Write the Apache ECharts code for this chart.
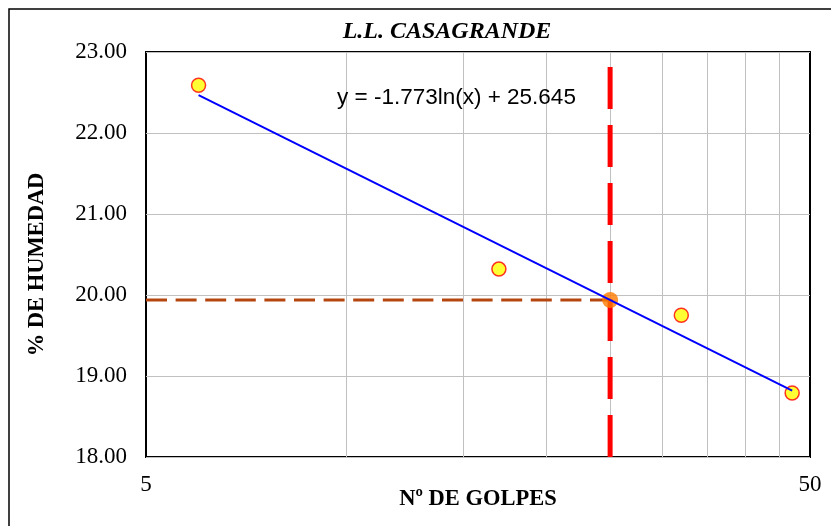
<!DOCTYPE html>
<html>
<head>
<meta charset="utf-8">
<script src="https://cdn.jsdelivr.net/npm/echarts@6/dist/echarts.min.js"></script>
<style>
  html, body { margin: 0; padding: 0; background: #ffffff; }
  #chart { width: 831px; height: 526px; }
</style>
</head>
<body>
<div id="chart"></div>
<script>
// Casagrande liquid-limit test: blow count vs. moisture content
const golpes = [6, 17, 32, 47];
const humedad = [22.59, 20.32, 19.75, 18.79];

// Logarithmic trendline  y = a·ln(x) + b
const trendA = -1.773;
const trendB = 25.645;
const trendFrom = 6;
const trendTo = 47;

// Liquid limit is read at 25 blows
const golpesLL = 25;

// Vertical reference lines of the log grid
const gridGolpes = [10, 15, 20, 25, 30, 35, 40, 45];

// Axis ranges
const xMin = 5, xMax = 50;
const yMin = 18, yMax = 23, yStep = 1;

const trendAt = x => trendA * Math.log(x) + trendB;
const humedadLL = trendAt(golpesLL);

const serif = '"Liberation Serif", "Times New Roman", serif';
const sans = '"Liberation Sans", Arial, sans-serif';

const chart = echarts.init(document.getElementById('chart'), null, { renderer: 'canvas' });

chart.setOption({
  animation: false,
  backgroundColor: '#ffffff',
  title: {
    text: 'L.L. CASAGRANDE',
    left: 442,
    top: 15,
    textAlign: 'center',
    textStyle: { fontFamily: serif, fontSize: 24, fontWeight: 'bold', fontStyle: 'italic', color: '#000' }
  },
  graphic: [{
    type: 'rect',
    shape: { x: 9, y: 9, width: 840, height: 540 },
    style: { fill: 'none', stroke: '#000', lineWidth: 1.5 },
    silent: true,
    z: -10
  }, {
    // trendline equation
    type: 'text',
    left: 337,
    top: 86,
    z: 10,
    style: {
      text: 'y = ' + trendA.toFixed(3) + 'ln(x) + ' + trendB.toFixed(3),
      fontFamily: sans, fontSize: 22.5, fill: '#000'
    }
  }],
  grid: {
    left: 146, top: 52, width: 664, height: 405,
    outerBoundsMode: 'none',
    show: true, borderColor: '#000', borderWidth: 2, backgroundColor: 'transparent'
  },
  xAxis: {
    type: 'log',
    logBase: 10,
    min: xMin, max: xMax,
    name: 'Nº DE GOLPES',
    nameLocation: 'middle',
    nameGap: 31,
    nameMoveOverlap: false,
    nameTextStyle: { fontFamily: serif, fontSize: 22.5, fontWeight: 'bold', color: '#000' },
    axisLine: { show: false },
    axisTick: { show: false },
    splitLine: { show: false },
    minorSplitLine: { show: false },
    axisLabel: {
      fontFamily: serif, fontSize: 23, color: '#000', margin: 16,
      showMinLabel: true, showMaxLabel: true,
      formatter: v => {
        const r = Math.round(v);
        return (r === xMin || r === xMax) ? String(r) : '';
      }
    }
  },
  yAxis: {
    type: 'value',
    min: yMin, max: yMax, interval: yStep,
    name: '% DE HUMEDAD',
    nameLocation: 'middle',
    nameRotate: 90,
    nameGap: 97,
    nameMoveOverlap: false,
    nameTextStyle: { fontFamily: serif, fontSize: 22.5, fontWeight: 'bold', color: '#000', padding: [0, 20, 0, 0] },
    axisLine: { show: false },
    axisTick: { show: false },
    splitLine: { show: true, lineStyle: { color: '#c0c0c0', width: 1 } },
    axisLabel: {
      fontFamily: serif, fontSize: 23, color: '#000', margin: 19,
      formatter: v => v.toFixed(2)
    }
  },
  series: [
    {
      // log-grid vertical lines
      type: 'line',
      data: [],
      silent: true,
      z: 1,
      markLine: {
        silent: true,
        z: 1,
        symbol: 'none',
        label: { show: false },
        lineStyle: { color: '#c0c0c0', width: 1, type: 'solid' },
        data: gridGolpes.map(g => ({ xAxis: g }))
      }
    },
    {
      // vertical dashed line at 25 blows
      type: 'line',
      data: [[golpesLL, yMin], [golpesLL, yMax]],
      symbol: 'none',
      silent: true,
      z: 3,
      lineStyle: { color: '#ff0000', width: 5, type: [42, 16] }
    },
    {
      // horizontal dashed line at the liquid limit
      type: 'line',
      data: [[xMin, humedadLL], [golpesLL, humedadLL]],
      symbol: 'none',
      silent: true,
      z: 3,
      lineStyle: { color: '#b5460f', width: 3, type: [21, 8.6] }
    },
    {
      // liquid limit point
      type: 'scatter',
      data: [[golpesLL, humedadLL]],
      symbol: 'circle',
      symbolSize: 16,
      silent: true,
      z: 4,
      itemStyle: { color: '#ff7c00', borderWidth: 0 }
    },
    {
      // measured points
      type: 'scatter',
      data: golpes.map((g, i) => [g, humedad[i]]),
      symbol: 'circle',
      symbolSize: 14,
      silent: true,
      z: 5,
      itemStyle: { color: '#ffff00', borderColor: '#ff0000', borderWidth: 1.5 }
    },
    {
      // logarithmic trendline
      type: 'line',
      data: [[trendFrom, trendAt(trendFrom)], [trendTo, trendAt(trendTo)]],
      symbol: 'none',
      silent: true,
      z: 6,
      lineStyle: { color: '#0000ff', width: 2 }
    }
  ]
});
</script>
</body>
</html>
